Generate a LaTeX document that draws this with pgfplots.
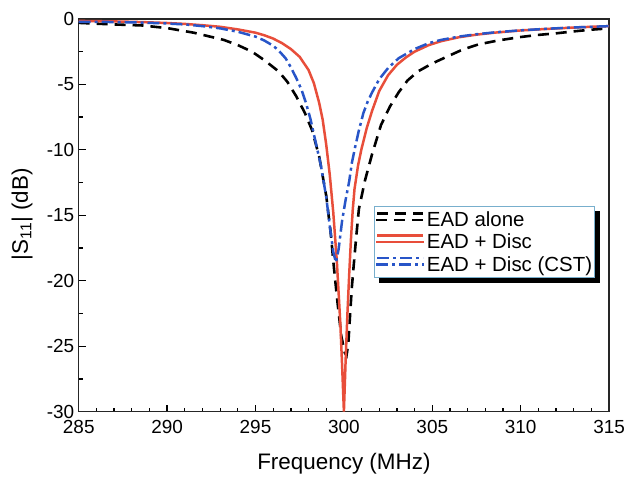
\documentclass[border=0pt]{standalone}
\usepackage{fontspec}
\setmainfont{Liberation Sans}
\setsansfont{Liberation Sans}
\usepackage{pgfplots}
\pgfplotsset{compat=1.18}
\definecolor{redc}{RGB}{232,78,58}
\definecolor{bluec}{RGB}{40,85,200}
\definecolor{legbd}{RGB}{120,175,205}
\begin{document}
\begin{tikzpicture}
\useasboundingbox (-79pt,-66pt) rectangle (548pt,413pt);
\begin{axis}[
  at={(0pt,0pt)}, anchor=south west,
  scale only axis, width=532pt, height=394pt,
  xmin=285, xmax=315, ymin=-30, ymax=0,
  xtick={285,290,...,315}, ytick={-30,-25,...,0},
  minor x tick num=4, minor y tick num=1,
  tick align=inside, xtick pos=left, ytick pos=left,
  major tick length=7pt, minor tick length=4pt,
  every tick/.style={black, line width=1.3pt},
  axis line style={line width=1.3pt, black!85},
  /pgf/number format/assume math mode=true,
  tick label style={font=\fontsize{19}{21}\selectfont},
  xticklabel style={yshift=-5pt},
  yticklabel style={xshift=-1pt},
  label style={font=\fontsize{22.5}{24}\selectfont},
  xlabel={Frequency (MHz)},
  ylabel={|S\textsubscript{11}| (dB)},
  xlabel style={at={(axis description cs:0.5,-0.132)}, anchor=center},
  ylabel style={at={(axis description cs:-0.107,0.503)}, anchor=center},
  legend cell align=left,
  legend image code/.code={\draw[#1] (0pt,6.5pt) -- (46pt,6.5pt); \path (-1pt,0pt) -- (47pt,0pt);},
  legend style={name=leg, at={(axis description cs:0.556,0.523)}, anchor=north west,
    font=\fontsize{20.5}{22}\selectfont, draw=legbd, line width=0.8pt, fill=white,
    inner xsep=1pt, inner ysep=4pt, row sep=4pt,
    nodes={inner xsep=1.5pt, inner ysep=1pt}},
]
\addplot[black, line width=2.6pt, dash pattern=on 11pt off 7pt] coordinates {
(285,-0.3) (286.6,-0.4) (288.6,-0.5) (290,-0.7) (291.5,-1.05) (293.2,-1.6)
(294,-2.0) (294.8,-2.5) (295.5,-3.15) (296.3,-4.0) (296.8,-4.8) (297.3,-5.9)
(297.8,-7.2) (298.2,-8.5) (298.6,-10.5) (299.0,-13.5) (299.25,-16.3) (299.45,-19.2)
(299.65,-21.8) (299.85,-24.2) (300.05,-25.5) (300.15,-25.7) (300.25,-24.8)
(300.35,-22.6) (300.45,-20.5) (300.55,-18.9) (300.7,-16.6) (300.85,-14.5)
(301.2,-12.3) (301.6,-10.3) (302.1,-8.1) (302.6,-6.7) (303.1,-5.6) (303.6,-4.7)
(304.2,-4.0) (305,-3.4) (305.8,-2.9) (306.7,-2.35) (307.6,-1.95) (308.7,-1.65)
(310,-1.38) (311,-1.22) (312,-1.1) (313,-0.95) (314,-0.82) (315,-0.72)
};
\addlegendentry{EAD alone}
\addplot[redc, line width=2.5pt] coordinates {
(285,-0.15) (286,-0.17) (287,-0.19) (288,-0.22) (289,-0.26) (290,-0.31)
(291,-0.38) (292,-0.48) (293,-0.6) (294,-0.8) (295,-1.05) (295.5,-1.25)
(296,-1.5) (296.5,-1.85) (297,-2.3) (297.5,-2.9) (298,-3.9) (298.3,-4.9)
(298.6,-6.4) (298.8,-7.7) (299.0,-9.6) (299.2,-11.9) (299.4,-14.8) (299.6,-18.5)
(299.8,-23.3) (299.9,-26.5) (300.0,-30) (300.1,-26.0) (300.2,-22.5) (300.3,-19.5)
(300.4,-16.8) (300.5,-14.6) (300.6,-13.0) (300.8,-11.2) (301.0,-9.9) (301.3,-8.3)
(301.6,-7.0) (302.0,-5.5) (302.5,-4.3) (303.0,-3.5) (303.5,-2.95) (304,-2.5)
(304.8,-2.0) (305.5,-1.7) (306.5,-1.4) (307.5,-1.2) (308.5,-1.05) (310,-0.88)
(311.5,-0.76) (313,-0.66) (314,-0.6) (315,-0.55)
};
\addlegendentry{EAD + Disc}
\addplot[bluec, line width=2.5pt, dash pattern=on 12pt off 4pt on 3pt off 4pt] coordinates {
(285,-0.22) (286,-0.22) (287,-0.24) (288,-0.26) (289,-0.3) (290,-0.35)
(291,-0.42) (292,-0.55) (293,-0.72) (294,-0.98) (295,-1.35) (295.5,-1.65)
(296,-2.05) (296.3,-2.4) (296.7,-3.0) (297.0,-3.7) (297.3,-4.5) (297.6,-5.4)
(297.85,-6.4) (298.1,-7.6) (298.4,-9.4) (298.7,-11.2) (299.0,-13.6) (299.2,-15.8)
(299.4,-17.8) (299.55,-18.6) (299.7,-17.6) (299.9,-15.4) (300.1,-13.8)
(300.3,-12.4) (300.45,-11.0) (300.65,-9.7) (300.85,-8.5) (301.1,-7.2)
(301.35,-6.3) (301.6,-5.6) (302.0,-4.6) (302.5,-3.75) (303.1,-3.0) (304,-2.3)
(304.8,-1.85) (305.5,-1.6) (306.5,-1.35) (307.5,-1.17) (308.5,-1.03) (310,-0.87)
(311.5,-0.75) (313,-0.65) (314,-0.6) (315,-0.55)
};
\addlegendentry{EAD + Disc (CST)}
\end{axis}
\fill[black] ([xshift=5pt]leg.south west) rectangle ([xshift=5pt,yshift=-5pt]leg.south east);
\fill[black] ([yshift=-5pt]leg.north east) rectangle ([xshift=5pt,yshift=-5pt]leg.south east);
\end{tikzpicture}
\end{document}
